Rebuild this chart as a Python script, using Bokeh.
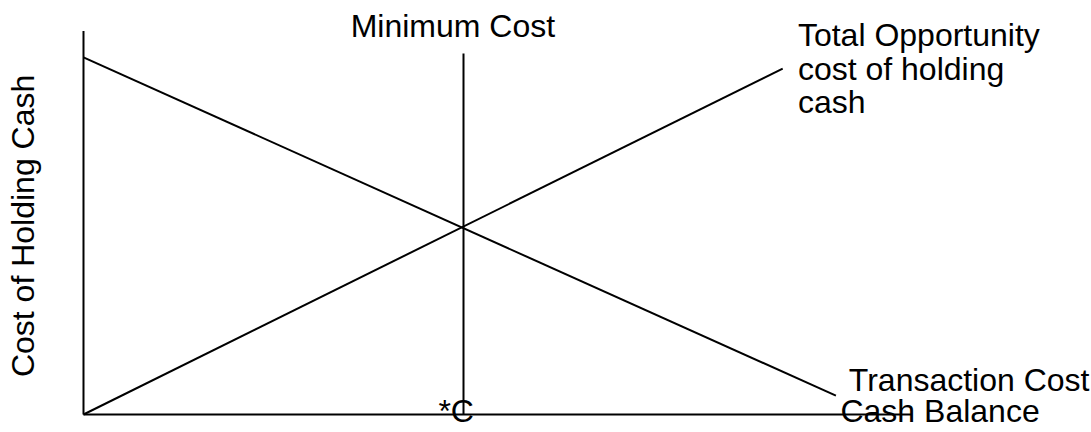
from bokeh.plotting import figure
from bokeh.models import Range1d, ColumnDataSource
from bokeh.core.properties import value
from bokeh.embed import file_html
from bokeh.resources import INLINE
import math

# --- data (cash balance on x, cost on y) ---
c_star = 50
opp_x = [0, 92]          # total opportunity cost of holding cash
opp_y = [0, 92]
trans_x = [0, 99]        # transaction cost
trans_y = [95, 5]
min_x = [c_star, c_star] # minimum cost line
min_y = [0, 96]
yaxis_x = [0, 0]
yaxis_y = [0, 102]
xaxis_x = [0, 109]
xaxis_y = [0, 0]

label_text = ["Minimum Cost", "Total Opportunity", "cost of holding", "cash",
              "Transaction Cost", "Cash Balance", "*C"]
label_x = [48.6, 94.0, 94.0, 94.0, 100.7, 99.6, 46.7]
label_y = [103.2, 101.0, 92.0, 83.0, 9.3, 0.8, 0.8]
label_align = ["center", "left", "left", "left", "left", "left", "left"]
ytitle = "Cost of Holding Cash"

FONT = value("Liberation Sans")

p = figure(width=1091, height=432, output_backend="svg", toolbar_location=None,
           x_range=Range1d(-10.92, 132.63), y_range=Range1d(-4.79, 110.11),
           min_border=0, outline_line_color=None)
p.axis.visible = False
p.grid.visible = False
p.background_fill_color = "white"
p.border_fill_color = "white"

for xs, ys in [(yaxis_x, yaxis_y), (xaxis_x, xaxis_y), (opp_x, opp_y),
               (trans_x, trans_y), (min_x, min_y)]:
    p.line(xs, ys, line_color="black", line_width=2)

src = ColumnDataSource(dict(x=label_x, y=label_y, t=label_text, a=label_align))
p.text(x="x", y="y", text="t", text_align="a", source=src,
       text_font=FONT, text_font_size="32px", text_color="black",
       text_baseline="alphabetic")

p.text(x=[-7.9], y=[50.16], text=[ytitle], angle=math.pi / 2,
       text_align="center", text_baseline="alphabetic",
       text_font=FONT, text_font_size="32px", text_color="black")

open("out.html", "w").write(file_html(p, INLINE))
